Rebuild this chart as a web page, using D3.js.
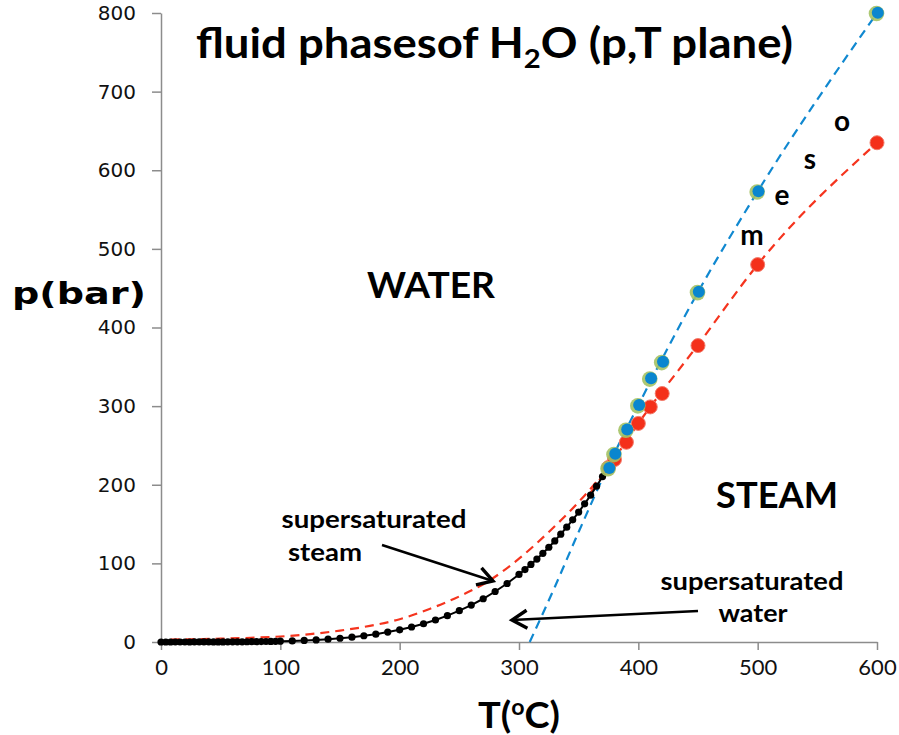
<!DOCTYPE html>
<html>
<head>
<meta charset="utf-8">
<script src="https://cdn.jsdelivr.net/npm/d3@7"></script>
<style>
  html, body { margin: 0; padding: 0; background: #fff; }
  svg text { font-family: Lato, "Open Sans", sans-serif; }
</style>
</head>
<body>
<svg id="chart" width="899" height="735"></svg>
<script>
// ---------------- data ----------------
// saturation (boiling) curve, T in °C, p in bar
const satT = [0,4,8,12,16,20,24,28,32,36,40,44,48,52,56,60,64,68,72,76,80,84,88,92,96,100,
  110,120,130,140,150,160,170,180,190,200,210,220,230,240,250,260,270,280,290,300,
  305,310,315,320,325,330,335,340,345,350,355,360,365,370,374];
const satP = [0.006,0.008,0.011,0.014,0.018,0.023,0.030,0.038,0.048,0.059,0.074,0.091,0.112,0.136,0.165,0.199,0.239,0.286,0.340,0.402,0.474,0.556,0.650,0.757,0.877,1.014,
  1.43,1.99,2.70,3.62,4.76,6.18,7.92,10.0,12.6,15.5,19.1,23.2,28.0,33.5,39.8,46.9,55.0,64.2,74.4,85.9,
  92.1,98.7,105.5,112.8,120.5,128.6,137.1,146.0,155.4,165.3,175.7,186.7,198.2,210.4,220.6];

// supersaturated steam limit (red dashed curve)
const steamLimT = [8,25,50,75,100,125,150,175,200,225,250,275,300,325,350,374];
const steamLimP = [3,3.5,4.2,5.3,7,10,14.5,20.5,29,42,58,78,106,140,178,220];

// supercritical points: blue/green series
const waterPtsT = [375,380,390,400,410,420,450,500,600];
const waterPtsP = [221,239,270,301,335,356,445,573,800];
// blue dashed trend (supersaturated water limit)
const waterLimT = [309,330,350,374,400,450,500,600];
const waterLimP = [0,70,140,221,301,445,573,800];

// supercritical points: red series
const steamPtsT = [375,380,390,400,410,420,450,500,600];
const steamPtsP = [222,232,254,278,299,316,377,480,635];
// red dashed trend
const steamTrendT = [360,374,400,450,500,600];
const steamTrendP = [190,220,278,378,480,635];

const xTicks = [0,100,200,300,400,500,600];
const yTicks = [0,100,200,300,400,500,600,700,800];

// ---------------- chart ----------------
const svg = d3.select("#chart");
const x = d3.scaleLinear().domain([0,600]).range([161,877]);
const y = d3.scaleLinear().domain([0,800]).range([642,13]);

const axisColor = "#8c8c8c";

// axes
const gx = svg.append("g").attr("transform", `translate(0,${y(0)})`)
  .call(d3.axisBottom(x).tickValues(xTicks).tickSize(8).tickSizeOuter(0).tickPadding(9));
const gy = svg.append("g").attr("transform", `translate(${x(0)},0)`)
  .call(d3.axisLeft(y).tickValues(yTicks).tickSize(9).tickSizeOuter(0).tickPadding(16));
[gx, gy].forEach(g => {
  g.select(".domain").attr("stroke", axisColor).attr("stroke-width", 1.5);
  g.selectAll(".tick line").attr("stroke", axisColor).attr("stroke-width", 1.5);
  g.selectAll(".tick text").attr("fill", "#111");
});
gx.selectAll(".tick text").style("font-size", "22px").style("font-family", "Lato, sans-serif");
gy.selectAll(".tick text").style("font-size", "20px").style("font-family", "'DejaVu Sans', sans-serif");

const zip = (a, b) => a.map((v, i) => [v, b[i]]);
const line = d3.line().x(d => x(d[0])).y(d => y(d[1]));
const smooth = d3.line().x(d => x(d[0])).y(d => y(d[1])).curve(d3.curveMonotoneX);

// red dashed steam limit curve
svg.append("path").datum(zip(steamLimT, steamLimP))
  .attr("d", smooth).attr("fill", "none").attr("stroke", "#f5341e")
  .attr("stroke-width", 2.2).attr("stroke-dasharray", "9,6");

// red dashed trend
svg.append("path").datum(zip(steamTrendT, steamTrendP))
  .attr("d", smooth).attr("fill", "none").attr("stroke", "#f5341e")
  .attr("stroke-width", 2.2).attr("stroke-dasharray", "9,6");

// blue dashed water limit
svg.append("path").datum(zip(waterLimT, waterLimP))
  .attr("d", smooth).attr("fill", "none").attr("stroke", "#1088d0")
  .attr("stroke-width", 2.2).attr("stroke-dasharray", "9,6");

// saturation curve (black line + dots)
const sat = zip(satT, satP);
svg.append("path").datum(sat).attr("d", line)
  .attr("fill", "none").attr("stroke", "#000").attr("stroke-width", 2);
svg.append("g").selectAll("circle").data(sat).join("circle")
  .attr("cx", d => x(d[0])).attr("cy", d => y(d[1])).attr("r", 3.6).attr("fill", "#000");

// red points
svg.append("g").selectAll("circle").data(zip(steamPtsT, steamPtsP)).join("circle")
  .attr("cx", d => x(d[0])).attr("cy", d => y(d[1])).attr("r", 7)
  .attr("fill", "#f4301a").attr("stroke", "#f27a6a").attr("stroke-width", 1);

// green/blue points
const wp = zip(waterPtsT, waterPtsP);
svg.append("g").selectAll("circle").data(wp).join("circle")
  .attr("cx", d => x(d[0]) - 0.5).attr("cy", d => y(d[1]) + 0.5).attr("r", 7.8)
  .attr("fill", "#a4c264").attr("opacity", 0.9);
svg.append("g").selectAll("circle").data(wp).join("circle")
  .attr("cx", d => x(d[0]) + 0.8).attr("cy", d => y(d[1]) - 0.3).attr("r", 6)
  .attr("fill", "#0a86cf");

// ---------------- texts ----------------
const title = svg.append("text").attr("x", 196).attr("y", 58)
  .attr("textLength", 597).attr("lengthAdjust", "spacingAndGlyphs")
  .style("font-size", "42px").style("font-weight", "bold").attr("fill", "#000");
title.append("tspan").text("fluid phasesof H");
title.append("tspan").text("2").attr("dy", 10).style("font-size", "27px");
title.append("tspan").text("O (p,T plane)").attr("dy", -10);

svg.append("text").attr("x", 12).attr("y", 304).text("p(bar)")
  .attr("textLength", 134).attr("lengthAdjust", "spacingAndGlyphs")
  .style("font-size", "31px").style("font-weight", "bold")
  .style("font-family", "'DejaVu Sans', sans-serif");

const xl = svg.append("text").attr("x", 478).attr("y", 728)
  .attr("textLength", 82).attr("lengthAdjust", "spacingAndGlyphs")
  .style("font-size", "36px").style("font-weight", "bold");
xl.append("tspan").text("T(");
xl.append("tspan").text("o").attr("dy", -13).style("font-size", "22px");
xl.append("tspan").text("C)").attr("dy", 13);

svg.append("text").attr("x", 431).attr("y", 298).attr("text-anchor", "middle")
  .attr("textLength", 128).attr("lengthAdjust", "spacingAndGlyphs")
  .text("WATER").style("font-size", "36px").style("font-weight", "bold");
svg.append("text").attr("x", 777).attr("y", 508).attr("text-anchor", "middle")
  .attr("textLength", 122).attr("lengthAdjust", "spacingAndGlyphs")
  .text("STEAM").style("font-size", "36px").style("font-weight", "bold");

const meso = [["m", 752, 245], ["e", 782, 205], ["s", 810, 169], ["o", 842, 131]];
svg.append("g").selectAll("text").data(meso).join("text")
  .attr("x", d => d[1]).attr("y", d => d[2]).attr("text-anchor", "middle")
  .text(d => d[0]).style("font-size", "28px").style("font-weight", "bold");

const lab = (t, xx, yy, w) => svg.append("text").attr("x", xx).attr("y", yy)
  .attr("text-anchor", "middle").text(t)
  .attr("textLength", w).attr("lengthAdjust", "spacingAndGlyphs")
  .style("font-size", "25px").style("font-weight", "bold");
lab("supersaturated", 374, 528, 185);
lab("steam", 325, 561, 74);
lab("supersaturated", 752, 590, 183);
lab("water", 753, 622, 69);

// arrows
const defs = svg.append("defs");
defs.append("marker").attr("id", "arr").attr("viewBox", "-18 -12 22 24")
  .attr("refX", 0).attr("refY", 0).attr("markerWidth", 22).attr("markerHeight", 24)
  .attr("markerUnits", "userSpaceOnUse").attr("orient", "auto")
  .append("path").attr("d", "M-15,-9 L0,0 L-15,9").attr("fill", "none")
  .attr("stroke", "#000").attr("stroke-width", 3.4);
svg.append("line").attr("x1", 382).attr("y1", 545).attr("x2", 493).attr("y2", 581)
  .attr("stroke", "#000").attr("stroke-width", 2.5).attr("marker-end", "url(#arr)");
svg.append("line").attr("x1", 698).attr("y1", 611).attr("x2", 512).attr("y2", 620)
  .attr("stroke", "#000").attr("stroke-width", 2.5).attr("marker-end", "url(#arr)");
</script>
</body>
</html>
